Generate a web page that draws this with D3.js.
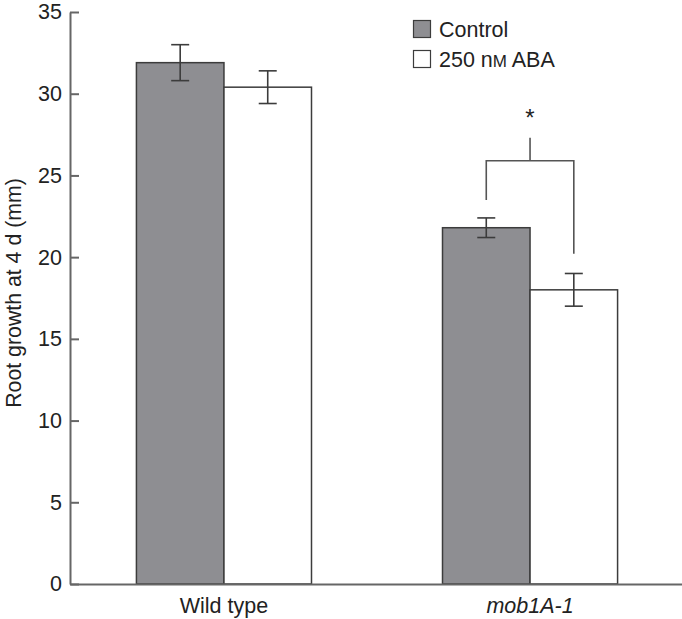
<!DOCTYPE html>
<html>
<head>
<meta charset="utf-8">
<script src="https://cdn.jsdelivr.net/npm/d3@7"></script>
<style>
  html, body { margin: 0; padding: 0; background: #fff; }
  svg { display: block; font-family: "Liberation Sans", Arial, Helvetica, sans-serif; }
</style>
</head>
<body>
<svg id="chart" width="682" height="619"></svg>
<script>
// ---- data ----
const categories = ["Wild type", "mob1A-1"];
const seriesNames = ["Control", "250 nM ABA"];
const controlValues = [31.9, 21.8];
const controlErrors = [1.1, 0.6];
const abaValues = [30.4, 18.0];
const abaErrors = [1.0, 1.0];
const yTicks = [0, 5, 10, 15, 20, 25, 30, 35];
// significance bracket for mob1A-1 (data units)
const bracketCategory = ["mob1A-1"];
const bracketLeftEnd = [23.5];
const bracketTop = [25.9];
const bracketRightEnd = [20.2];
const bracketStemTop = [27.3];
const bracketLabel = ["*"];

// ---- layout ----
const svg = d3.select("#chart");
const axisX = 70, yBottom = 584, yTop = 12;
const y = d3.scaleLinear().domain([0, 35]).range([yBottom, yTop]);
const x = d3.scaleBand().domain(categories).range([axisX, 684])
  .paddingInner(0.428).paddingOuter(0.217);
const xs = d3.scaleBand().domain(["control", "aba"]).range([0, x.bandwidth()]);

const barFill = ["#8e8e92", "#ffffff"];
const strokeCol = "#3c3c3c";
const textCol = "#222";
const fontSize = 21.5;

const groups = categories.map((c, i) => ({
  cat: c,
  bars: [
    { key: "control", v: controlValues[i], e: controlErrors[i], fill: barFill[0] },
    { key: "aba", v: abaValues[i], e: abaErrors[i], fill: barFill[1] }
  ]
}));

const g = svg.selectAll("g.grp").data(groups).join("g")
  .attr("class", "grp")
  .attr("transform", d => `translate(${x(d.cat)},0)`);

g.selectAll("rect").data(d => d.bars).join("rect")
  .attr("x", d => xs(d.key))
  .attr("y", d => y(d.v))
  .attr("width", xs.bandwidth())
  .attr("height", d => y(0) - y(d.v))
  .attr("fill", d => d.fill)
  .attr("stroke", strokeCol)
  .attr("stroke-width", 1.5);

// error bars
const capW = 9;
const eb = g.selectAll("g.eb").data(d => d.bars).join("g").attr("class", "eb")
  .attr("stroke", strokeCol).attr("stroke-width", 1.6);
eb.append("line")
  .attr("x1", d => xs(d.key) + xs.bandwidth() / 2).attr("x2", d => xs(d.key) + xs.bandwidth() / 2)
  .attr("y1", d => y(d.v + d.e)).attr("y2", d => y(d.v - d.e));
eb.append("line")
  .attr("x1", d => xs(d.key) + xs.bandwidth() / 2 - capW).attr("x2", d => xs(d.key) + xs.bandwidth() / 2 + capW)
  .attr("y1", d => y(d.v + d.e)).attr("y2", d => y(d.v + d.e));
eb.append("line")
  .attr("x1", d => xs(d.key) + xs.bandwidth() / 2 - capW).attr("x2", d => xs(d.key) + xs.bandwidth() / 2 + capW)
  .attr("y1", d => y(d.v - d.e)).attr("y2", d => y(d.v - d.e));

// significance bracket
bracketCategory.forEach((c, i) => {
  const xl = x(c) + xs("control") + xs.bandwidth() / 2;
  const xr = x(c) + xs("aba") + xs.bandwidth() / 2;
  const xm = (xl + xr) / 2;
  const path = d3.path();
  path.moveTo(xl, y(bracketLeftEnd[i]));
  path.lineTo(xl, y(bracketTop[i]));
  path.lineTo(xr, y(bracketTop[i]));
  path.lineTo(xr, y(bracketRightEnd[i]));
  path.moveTo(xm, y(bracketTop[i]));
  path.lineTo(xm, y(bracketStemTop[i]));
  svg.append("path").attr("d", path.toString()).attr("fill", "none")
    .attr("stroke", "#555").attr("stroke-width", 1.6);
  svg.append("text").attr("x", xm).attr("y", y(bracketStemTop[i]) - 12)
    .attr("text-anchor", "middle").attr("font-size", 24).attr("fill", textCol)
    .text(bracketLabel[i]);
});

// y axis
const yAxis = d3.axisLeft(y).tickValues(yTicks).tickSize(-9).tickPadding(8).tickSizeOuter(0);
const ya = svg.append("g").attr("transform", `translate(${axisX},0)`).call(yAxis);
ya.select(".domain").attr("stroke", "#666").attr("stroke-width", 2);
ya.selectAll(".tick line").attr("stroke", "#666").attr("stroke-width", 2);
ya.selectAll(".tick text").attr("font-size", fontSize).attr("fill", textCol)
  .attr("font-family", "Liberation Sans, Arial, sans-serif");

// x axis
const xAxis = d3.axisBottom(x).tickSize(0).tickPadding(13.5).tickSizeOuter(0);
const xa = svg.append("g").attr("transform", `translate(0,${yBottom})`).call(xAxis);
xa.select(".domain").attr("stroke", "#666").attr("stroke-width", 2);
xa.selectAll(".tick text").attr("font-size", fontSize).attr("fill", textCol)
  .attr("font-family", "Liberation Sans, Arial, sans-serif")
  .style("font-style", d => d === "mob1A-1" ? "italic" : "normal");

// y label
svg.append("text").attr("transform", "translate(21,293) rotate(-90)")
  .attr("text-anchor", "middle").attr("font-size", 21.3).attr("fill", textCol)
  .text("Root growth at 4 d (mm)");

// legend
const leg = svg.append("g").attr("transform", "translate(413,20)");
seriesNames.forEach((name, i) => {
  const row = leg.append("g").attr("transform", `translate(0,${i * 30})`);
  row.append("rect").attr("x", 0.5).attr("y", 0.5).attr("width", 17).attr("height", 17)
    .attr("fill", barFill[i]).attr("stroke", strokeCol).attr("stroke-width", 1.2);
  const t = row.append("text").attr("x", 26).attr("y", 16.5).attr("font-size", fontSize).attr("fill", textCol);
  if (name.includes("nM")) {
    const parts = name.split("nM");
    t.append("tspan").text(parts[0] + "n");
    t.append("tspan").attr("font-size", 17).text("M");
    t.append("tspan").text(parts[1]);
  } else {
    t.text(name);
  }
});
</script>
</body>
</html>
